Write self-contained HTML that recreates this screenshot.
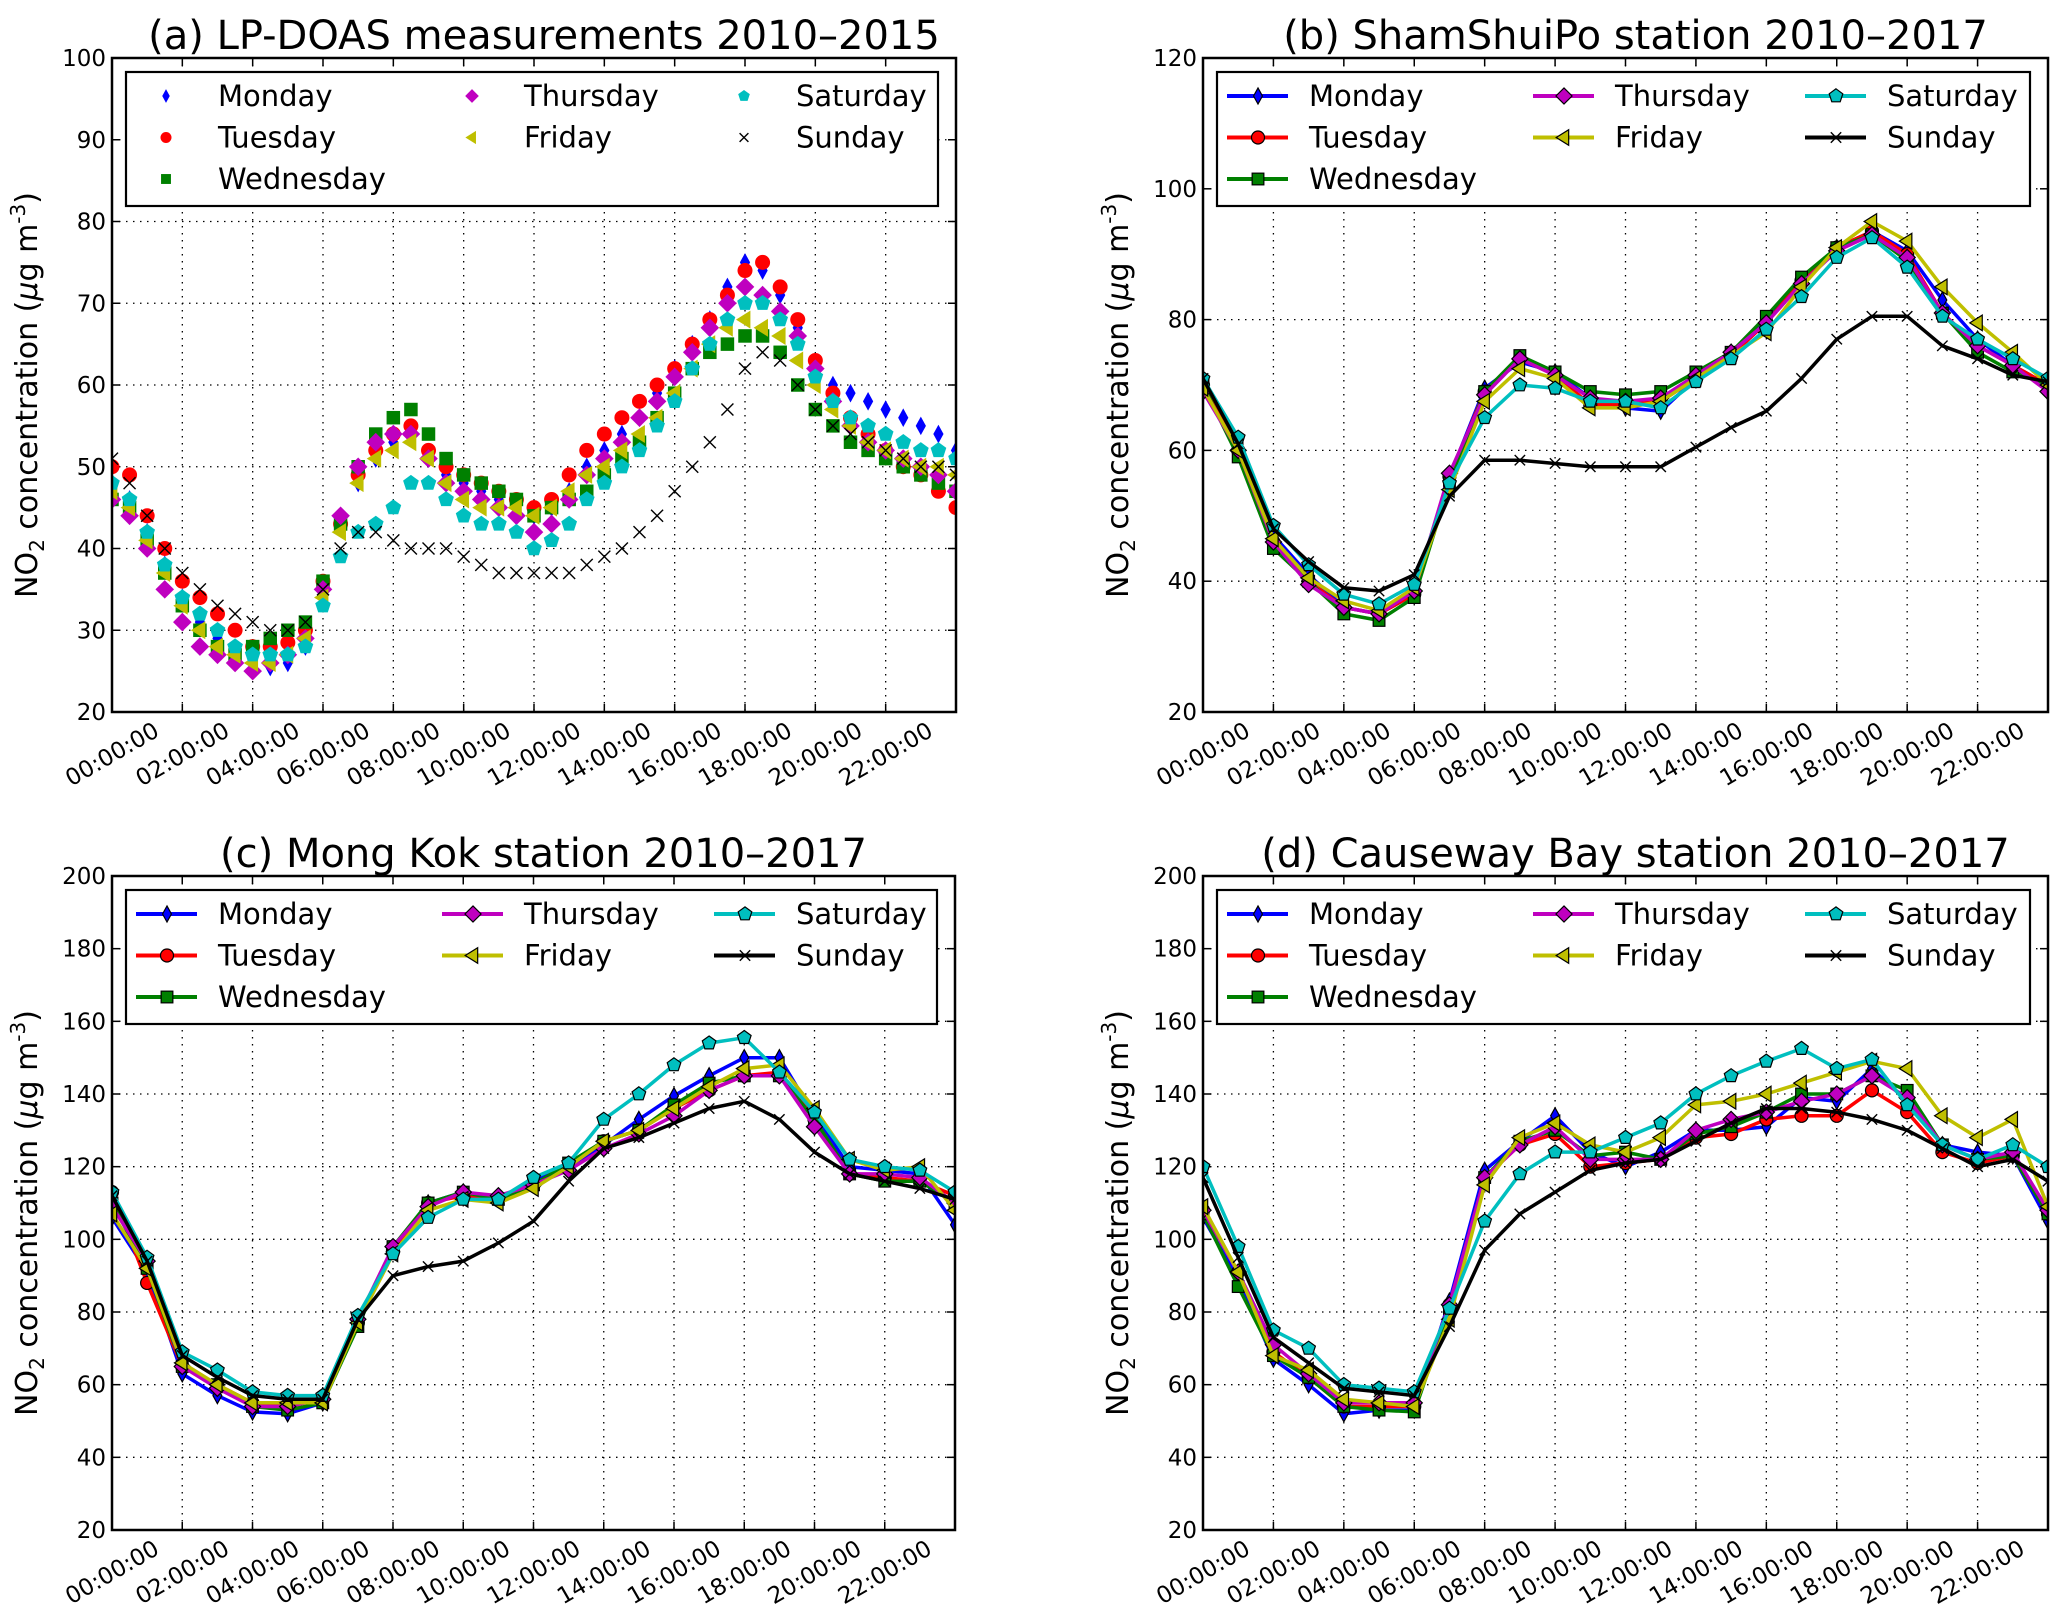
<!DOCTYPE html>
<html><head><meta charset="utf-8"><style>
html,body{margin:0;padding:0;background:#fff;}
svg{display:block;font-family:"DejaVu Sans","Liberation Sans",sans-serif;}
</style></head><body>
<svg id="fig" width="2067" height="1621" viewBox="0 0 2067 1621" xmlns="http://www.w3.org/2000/svg">
<rect width="2067" height="1621" fill="#fff"/>
</svg>
<script>
// ---------- data ----------
const days = ["Monday","Tuesday","Wednesday","Thursday","Friday","Saturday","Sunday"];
const xTickLabels = ["00:00:00","02:00:00","04:00:00","06:00:00","08:00:00","10:00:00","12:00:00","14:00:00","16:00:00","18:00:00","20:00:00","22:00:00"];
const xTickHours = [0,2,4,6,8,10,12,14,16,18,20,22];
const hoursA = [0,0.5,1,1.5,2,2.5,3,3.5,4,4.5,5,5.5,6,6.5,7,7.5,8,8.5,9,9.5,10,10.5,11,11.5,12,12.5,13,13.5,14,14.5,15,15.5,16,16.5,17,17.5,18,18.5,19,19.5,20,20.5,21,21.5,22,22.5,23,23.5,24];
const hoursS = [0,1,2,3,4,5,6,7,8,9,10,11,12,13,14,15,16,17,18,19,20,21,22,23,24];
// panel (a) LP-DOAS
const aMon = [48,46,42,38,34,31,29,27,26,25.5,26,28,35,43,48,51,53,54,51,49,48,47,46,45,44,45,47,50,52,54,56,59,62,65,68,72,75,74,71,67,62,60,59,58,57,56,55,54,52];
const aTue = [50,49,44,40,36,34,32,30,28,28,28.5,30,36,43,49,52,54,55,52,50,49,48,47,46,45,46,49,52,54,56,58,60,62,65,68,71,74,75,72,68,63,59,56,54,52,50,49,47,45];
const aWed = [46,45,41,37,33,30,28,27,28,29,30,31,36,43,50,54,56,57,54,51,49,48,47,46,44,45,46,47,49,51,53,56,59,62,64,65,66,66,64,60,57,55,53,52,51,50,49,48,47];
const aThu = [46,44,40,35,31,28,27,26,25,26,27,29,35,44,50,53,54,54,51,48,47,46,45,44,42,43,46,49,51,53,56,58,61,64,67,70,72,71,69,66,62,58,55,53,52,51,50,49,47];
const aFri = [47,45,41,37,33,30,28,27,26,26,27,29,34,42,48,51,52,53,51,48,46,45,45,45,44,45,47,49,50,52,54,56,59,62,65,67,68,67,66,63,60,57,55,53,52,51,50,50,49];
const aSat = [48,46,42,38,34,32,30,28,27,27,27,28,33,39,42,43,45,48,48,46,44,43,43,42,40,41,43,46,48,50,52,55,58,62,65,68,70,70,68,65,61,58,56,55,54,53,52,52,51];
const aSun = [51,48,44,40,37,35,33,32,31,30,30,31,35,40,42,42,41,40,40,40,39,38,37,37,37,37,37,38,39,40,42,44,47,50,53,57,62,64,63,60,57,55,54,53,52,51,50,50,49];
// panel (b) ShamShuiPo
const bMon = [70,61,47,41,36,35,38,56,69.5,73.5,72,68,66.5,66,71,75,80,86,91,93.5,90.5,83,77,73,70];
const bTue = [70,60,46,40,36,35,38,56,69,74,71.5,67,67,67.5,71,74.5,79.5,86,91,93.5,90,81,76,73,70];
const bWed = [70,59,45,40,35,34,37.5,55,69,74.5,72,69,68.5,69,72,75,80.5,86.5,91,93,89,81,75,72,70];
const bThu = [69,60,46,39.5,36,35,38.5,56.5,68.5,74,71.5,68,67.5,68,71.5,75,79.5,85.5,90.5,93,89.5,81,76,73,69];
const bFri = [69.5,60,46.5,40.5,37,35.5,39,54,67.5,72.5,71,66.5,66.5,67.5,71,74.5,78,85,91,95,92,85,79.5,75,70];
const bSat = [71,62,48.5,42.5,38,36.5,39.5,55,65,70,69.5,67.5,67.5,66.5,70.5,74,78.5,83.5,89.5,92.5,88,80.5,77,74,71];
const bSun = [71,61,48,43,39,38.5,41,53,58.5,58.5,58,57.5,57.5,57.5,60.5,63.5,66,71,77,80.5,80.5,76,74,71.5,70.5];
// panel (c) Mong Kok
const cMon = [106,91,63,57,52.5,52,55,78,97.5,110,113,111,116,120,126,133,139.5,145,150,150,134,120,119,118,104];
const cTue = [113,88,65,60,55,54,56,77,97,110,112,111,115,120,127,130,136,141,145,146,133,118,117,116,112];
const cWed = [110,92,65,60,54,53,55,76,98,110,113,111,115,121,127,130,137,143,145,145,133,118,116,116,110];
const cThu = [109,94,65,59,54,54,56,78,98,109,113,112,115,119,125,129,134,141,145,145,131,118,118,117,110];
const cFri = [107,92,66,60,55,55,55,77,96,108,111,110,114,120,127,130,136,142,147,148,136,122,119,120,108];
const cSat = [113,95,69,64,58,57,57,79,96,106,111,111,117,121,133,140,148,154,155.5,146,135,122,120,119,113];
const cSun = [112,94,68,62,57,56,56,78,90,92.5,94,99,105,116,125,128,132,136,138,133,124,118,116,114,111];
// panel (d) Causeway Bay
const dMon = [106,89,67,60,52,53,53,83,119,127,134,124,120,124,130,130,131,139,138,147,138,126,124,123,105];
const dTue = [108,91,69,62,54,54,54,82,117,126,129,120,121,122,128,129,133,134,134,141,135,124,121,123,107];
const dWed = [107,87,68,62,54,53,52.5,81,117,127,130,123,124,122,129,131,135,140,140,145,141,126,122,123,107];
const dThu = [108,91,71,63,55,55,55,82,117,126,131,122,122,122,130,133,135,138,140,145,139,126,122,124,108];
const dFri = [109,91,68,64,56,55,54,78,115,128,132,126,124,128,137,138,140,143,146,149,147,134,128,133,109];
const dSat = [120,98,75,70,60,59,58,81,105,118,124,124,128,132,140,145,149,152.5,147,149.5,137,126,122,126,120];
const dSun = [117,95,73,66,59,58,57,76,97,107,113,119,121,122,127,132,136,136,135,133,130,125,120,122,116];
const yTicksA = [20,30,40,50,60,70,80,90,100];
const yTicksB = [20,40,60,80,100,120];
const yTicksCD = [20,40,60,80,100,120,140,160,180,200];

// ---------- drawing ----------
const NS = "http://www.w3.org/2000/svg";
const svg = document.getElementById("fig");
const colors = ["#0000ff","#ff0000","#008000","#bf00bf","#bfbf00","#00bfbf","#000000"];
const markers = ["thindiamond","circle","square","diamond","trileft","pentagon","x"];
function mk(tag, attrs, parent){
  const e = document.createElementNS(NS, tag);
  for (const k in attrs) e.setAttribute(k, attrs[k]);
  (parent||svg).appendChild(e);
  return e;
}
function marker(parent, type, x, y, s, fill, edge){
  let e;
  const sw = edge ? 1.2 : 0;
  const st = edge ? "#000" : "none";
  if (type === "circle") e = mk("circle",{cx:x,cy:y,r:s*0.5,fill:fill,stroke:st,"stroke-width":sw},parent);
  else if (type === "square") e = mk("rect",{x:x-s*0.45,y:y-s*0.45,width:s*0.9,height:s*0.9,fill:fill,stroke:st,"stroke-width":sw},parent);
  else if (type === "diamond") { const r=s*0.62; e = mk("polygon",{points:`${x},${y-r} ${x+r},${y} ${x},${y+r} ${x-r},${y}`,fill:fill,stroke:st,"stroke-width":sw},parent); }
  else if (type === "thindiamond") { const r=s*0.62; e = mk("polygon",{points:`${x},${y-r} ${x+r*0.55},${y} ${x},${y+r} ${x-r*0.55},${y}`,fill:fill,stroke:st,"stroke-width":sw},parent); }
  else if (type === "trileft") { const r=s*0.6; e = mk("polygon",{points:`${x-r},${y} ${x+r*0.6},${y-r} ${x+r*0.6},${y+r}`,fill:fill,stroke:st,"stroke-width":sw},parent); }
  else if (type === "pentagon") { const r=s*0.55; let p=[]; for(let i=0;i<5;i++){const a=-Math.PI/2+i*2*Math.PI/5;p.push((x+r*Math.cos(a)).toFixed(1)+","+(y+r*Math.sin(a)).toFixed(1));} e = mk("polygon",{points:p.join(" "),fill:fill,stroke:st,"stroke-width":sw},parent); }
  else { const r=s*0.4; e = mk("path",{d:`M${x-r},${y-r}L${x+r},${y+r}M${x-r},${y+r}L${x+r},${y-r}`,stroke:"#000",fill:"none","stroke-width":1.4},parent); }
  
  
  return e;
}

function panel(cfg){
  const g = mk("g",{});
  
  
  const L=cfg.L,R=cfg.R,T=cfg.T,B=cfg.B;
  const xs = h => L + (h/24)*(R-L);
  const ys = v => B - (v-cfg.ymin)/(cfg.ymax-cfg.ymin)*(B-T);
  const t = mk("text",{x:(L+R)/2+10,y:T-9,"font-size":40,"text-anchor":"middle",fill:"#000"},g);
  t.textContent = cfg.title;
  
  
  const grid = mk("g",{stroke:"#000","stroke-width":1.3,"stroke-dasharray":"1.5,5.5"},g);
  
  
  xTickHours.forEach(h=>{ if(h>0) mk("line",{x1:xs(h),x2:xs(h),y1:T,y2:B},grid); });
  cfg.yticks.forEach(v=>{ if(v>cfg.ymin && v<cfg.ymax) mk("line",{x1:L,x2:R,y1:ys(v),y2:ys(v)},grid); });
  const ticks = mk("g",{stroke:"#000","stroke-width":1.5},g);
  xTickHours.forEach(h=>{ mk("line",{x1:xs(h),x2:xs(h),y1:B,y2:B-8},ticks); mk("line",{x1:xs(h),x2:xs(h),y1:T,y2:T+8},ticks); });
  cfg.yticks.forEach(v=>{ mk("line",{x1:L,x2:L+8,y1:ys(v),y2:ys(v)},ticks); mk("line",{x1:R,x2:R-8,y1:ys(v),y2:ys(v)},ticks); });
  cfg.yticks.forEach(v=>{
    const e = mk("text",{x:L-6,y:ys(v)+8,"font-size":23,"text-anchor":"end",fill:"#000"},g);
    e.textContent = v;
    
    
  });
  xTickHours.forEach((h,i)=>{
    const cx = xs(h), cy = B+42;
    const e = mk("text",{x:cx,y:cy+8,"font-size":23,"text-anchor":"middle",fill:"#000",transform:`rotate(-30 ${cx} ${cy})`},g);
    e.textContent = xTickLabels[i];
    
    
  });
  const yx = L-75, yy = (T+B)/2+10;
  const yt = mk("text",{x:yx,y:yy,"font-size":30,"text-anchor":"middle",fill:"#000",transform:`rotate(-90 ${yx} ${yy})`},g);
  yt.innerHTML = 'NO<tspan font-size="20" dy="7">2</tspan><tspan dy="-7"> concentration (</tspan><tspan font-style="italic">μ</tspan><tspan>g m</tspan><tspan font-size="20" dy="-12">-3</tspan><tspan dy="12">)</tspan>';
  
  
  const clipId = "clip-"+cfg.name;
  const cp = mk("clipPath",{id:clipId},g);
  mk("rect",{x:L,y:T,width:R-L,height:B-T},cp);
  const sg = mk("g",{"clip-path":`url(#${clipId})`},g);
  cfg.series.forEach((vals,i)=>{
    const s = mk("g",{},sg);
    
    
    if (cfg.scatter){
      vals.forEach((v,j)=>{ marker(s, markers[i], xs(cfg.hours[j]), ys(v), 15, colors[i], false); });
    } else {
      const pts = vals.map((v,j)=>xs(cfg.hours[j]).toFixed(1)+","+ys(v).toFixed(1)).join(" ");
      const pl = mk("polyline",{points:pts,fill:"none",stroke:colors[i],"stroke-width":3.5,"stroke-linejoin":"round"},s);
      
      
      vals.forEach((v,j)=>{ marker(s, markers[i], xs(cfg.hours[j]), ys(v), 13, colors[i], true); });
    }
  });
  const fr = mk("rect",{x:L,y:T,width:R-L,height:B-T,fill:"none",stroke:"#000","stroke-width":2.5},g);
  
  
  const lg = mk("g",{},g);
  
  
  mk("rect",{x:L+14,y:T+14,width:R-L-32,height:134,fill:"#fff",stroke:"#000","stroke-width":2.2},lg);
  const colX = [0,306,578];
  days.forEach((d,i)=>{
    const col = i<3 ? 0 : (i<5 ? 1 : 2);
    const row = i<3 ? i : (i<5 ? i-3 : i-5);
    const ry = T+38+row*41.5;
    const ent = mk("g",{},lg);
    
    
    if (cfg.scatter){
      marker(ent, markers[i], L+54+colX[col], ry, 11, colors[i], false);
    } else {
      mk("line",{x1:L+24+colX[col],x2:L+85+colX[col],y1:ry,y2:ry,stroke:colors[i],"stroke-width":4},ent);
      marker(ent, markers[i], L+55+colX[col], ry, 13, colors[i], true);
    }
    const tx = mk("text",{x:L+106+colX[col],y:ry+10,"font-size":29,fill:"#000"},ent);
    tx.textContent = d;
  });
}

panel({name:"panel-a-lpdoas",title:"(a) LP-DOAS measurements 2010–2015",L:112,R:956,T:58,B:712,ymin:20,ymax:100,yticks:yTicksA,scatter:true,hours:hoursA,series:[aMon,aTue,aWed,aThu,aFri,aSat,aSun]});
panel({name:"panel-b-shamshuipo",title:"(b) ShamShuiPo station 2010–2017",L:1203,R:2048,T:58,B:712,ymin:20,ymax:120,yticks:yTicksB,scatter:false,hours:hoursS,series:[bMon,bTue,bWed,bThu,bFri,bSat,bSun]});
panel({name:"panel-c-mongkok",title:"(c) Mong Kok station 2010–2017",L:112,R:955,T:876,B:1530,ymin:20,ymax:200,yticks:yTicksCD,scatter:false,hours:hoursS,series:[cMon,cTue,cWed,cThu,cFri,cSat,cSun]});
panel({name:"panel-d-causewaybay",title:"(d) Causeway Bay station 2010–2017",L:1203,R:2048,T:876,B:1530,ymin:20,ymax:200,yticks:yTicksCD,scatter:false,hours:hoursS,series:[dMon,dTue,dWed,dThu,dFri,dSat,dSun]});
</script>
</body></html>
